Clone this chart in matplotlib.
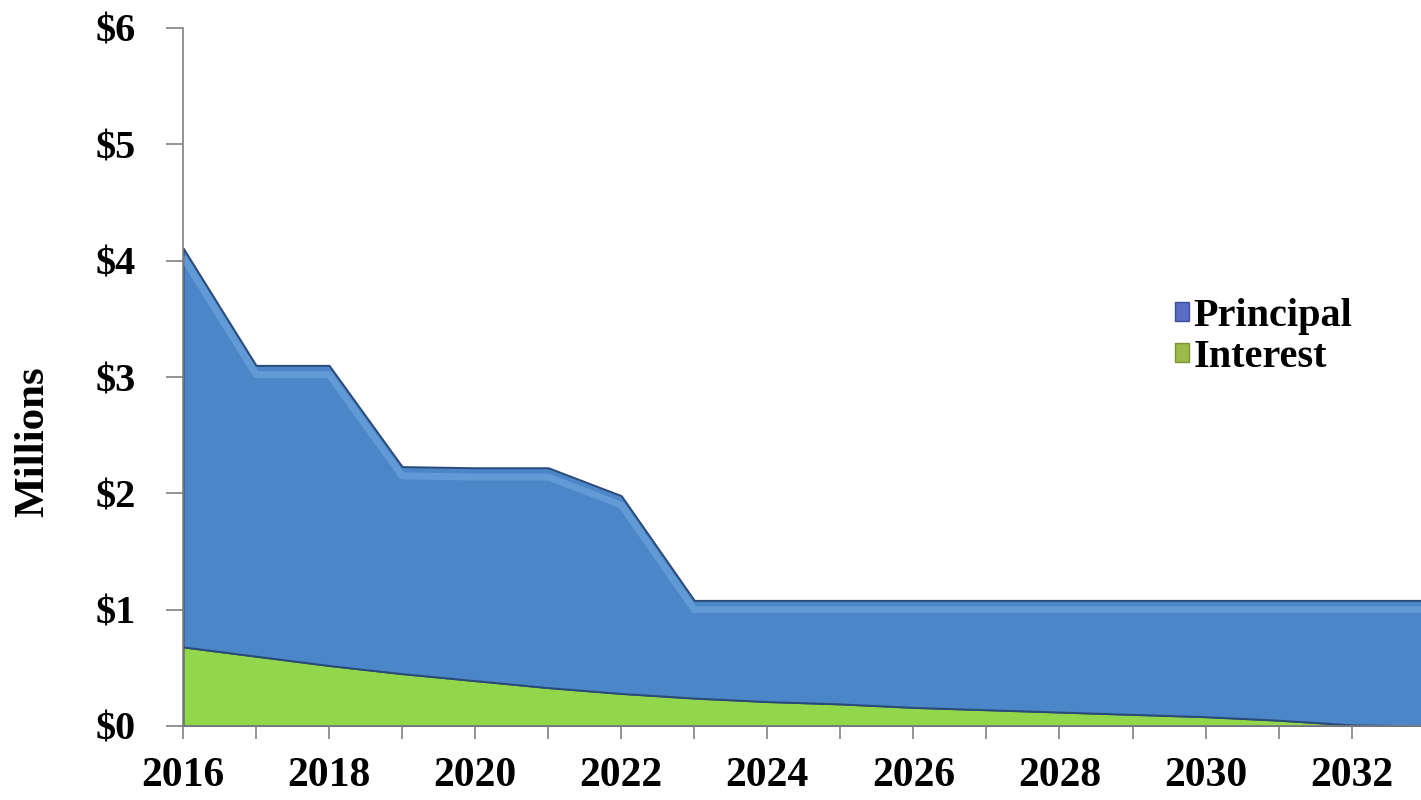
import matplotlib.pyplot as plt
from matplotlib.patches import Patch
import numpy as np

years = np.arange(2016, 2034)
interest = [0.68, 0.60, 0.52, 0.45, 0.39, 0.33, 0.28, 0.24, 0.21,
            0.19, 0.16, 0.14, 0.12, 0.10, 0.08, 0.05, 0.01, 0.0]
principal = [3.43, 2.50, 2.58, 1.78, 1.83, 1.89, 1.70, 0.84, 0.87,
             0.89, 0.92, 0.94, 0.96, 0.98, 1.00, 1.03, 1.07, 1.08]
year_labels = [str(y) for y in range(2016, 2033, 2)]
y_ticks = [0, 1, 2, 3, 4, 5, 6]

plt.rcParams['font.family'] = ['Liberation Serif', 'DejaVu Serif']
plt.rcParams['font.weight'] = 'bold'

fig = plt.figure(figsize=(14.21, 8), dpi=100)
ax = fig.add_axes([0.1288, 0.0925, 0.8712, 0.8725])

blue = '#4a86c8'
green = '#92d64c'
ax.stackplot(years, interest, principal, colors=[green, blue],
             edgecolor='#2c4a78', linewidth=1.4)

# soft highlight just under the top edge of the blue area
total = np.array(interest) + np.array(principal)
ax.plot(years, total - 0.08, color='#8cc0f0', linewidth=5, alpha=0.35,
        solid_capstyle='butt')

ax.set_xlim(2016, 2032.95)
ax.set_ylim(0, 6)
ax.set_xticks(range(2016, 2033, 2))
ax.set_xticklabels(year_labels)
ax.set_xticks(range(2017, 2033, 2), minor=True)
ax.set_yticks(y_ticks)
ax.set_yticklabels(['$%d' % v for v in y_ticks])

for s in ['top', 'right']:
    ax.spines[s].set_visible(False)
for s in ['left', 'bottom']:
    ax.spines[s].set_color('#808080')
    ax.spines[s].set_linewidth(1.2)

ax.tick_params(axis='both', which='both', direction='out', color='#808080',
               width=1.2, labelsize=29)
ax.tick_params(axis='y', length=12, pad=22)
ax.tick_params(axis='x', which='both', length=9, pad=13)
ax.tick_params(axis='x', labelsize=30)

ax.set_ylabel('Millions', fontsize=31, fontweight='bold')
ax.yaxis.set_label_coords(-0.106, 0.408)

handles = [Patch(facecolor='#5a6cc6', edgecolor='#3f4f9a', label='Principal'),
           Patch(facecolor='#9cb94a', edgecolor='#7a9438', label='Interest')]
ax.legend(handles=handles, loc='upper left', bbox_to_anchor=(0.788, 0.636),
          frameon=False, fontsize=29, handlelength=0.35, handleheight=0.35,
          handletextpad=0.12, labelspacing=0.1, borderaxespad=0)

fig.savefig('out.png', dpi=100)
